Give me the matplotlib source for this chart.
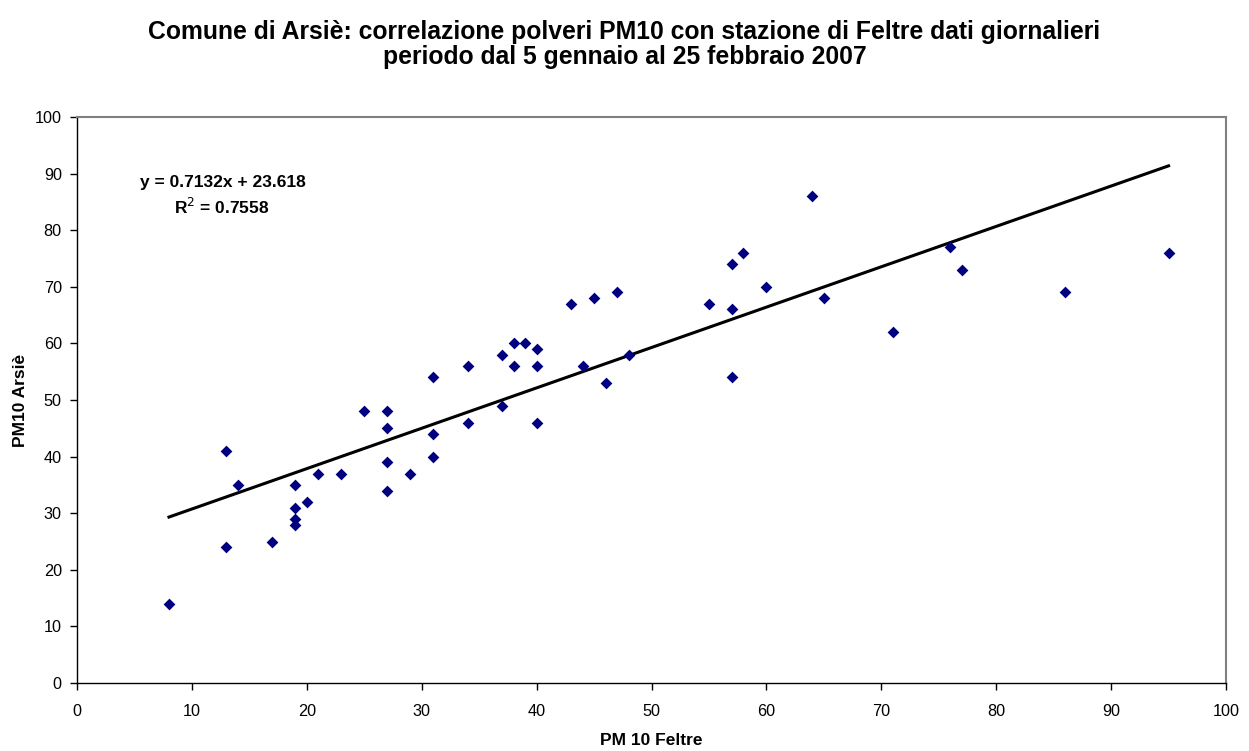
import matplotlib
matplotlib.use("Agg")
import matplotlib.pyplot as plt
import numpy as np

plt.rcParams['font.family'] = ['Liberation Sans', 'DejaVu Sans']

pm10_feltre = [8, 13, 13, 14, 17, 19, 19, 19, 19, 20, 21, 23, 25, 27, 27, 27, 27, 29,
               31, 31, 31, 34, 34, 37, 37, 38, 38, 39, 40, 40, 40, 43, 44, 45, 46, 47,
               48, 55, 57, 57, 57, 58, 60, 64, 65, 71, 76, 77, 86, 95]
pm10_arsie = [14, 41, 24, 35, 25, 35, 31, 29, 28, 32, 37, 37, 48, 48, 45, 39, 34, 37,
              54, 44, 40, 56, 46, 58, 49, 60, 56, 60, 59, 56, 46, 67, 56, 68, 53, 69,
              58, 67, 74, 66, 54, 76, 70, 86, 68, 62, 77, 73, 69, 76]
slope = 0.7132
intercept = 23.618
eq_text = "y = 0.7132x + 23.618"
r2_text = "R$^2$ = 0.7558"
title = ("Comune di Arsiè: correlazione polveri PM10 con stazione di Feltre dati giornalieri\n"
         "periodo dal 5 gennaio al 25 febbraio 2007")
xlabel = "PM 10 Feltre"
ylabel = "PM10 Arsiè"
xticks = list(range(0, 101, 10))
yticks = list(range(0, 101, 10))

fig = plt.figure(figsize=(12.49, 7.51), dpi=100)
ax = fig.add_axes([0.0617, 0.0905, 0.9199, 0.7537])

ax.scatter(pm10_feltre, pm10_arsie, marker='D', s=36, color='#000080', zorder=3, linewidths=0)
xs = np.array([min(pm10_feltre), max(pm10_feltre)])
ax.plot(xs, slope * xs + intercept, color='black', lw=2.2, zorder=2)

ax.set_xlim(0, 100)
ax.set_ylim(0, 100)
ax.set_xticks(xticks)
ax.set_yticks(yticks)
ax.tick_params(direction='out', length=5, width=1, labelsize=11.7, colors='black')
ax.tick_params(axis='x', pad=10)
ax.tick_params(axis='y', pad=6)
for s in ['top', 'right']:
    ax.spines[s].set_color('#808080')
    ax.spines[s].set_linewidth(1.5)
for s in ['left', 'bottom']:
    ax.spines[s].set_color('black')
    ax.spines[s].set_linewidth(1)

ax.set_xlabel(xlabel, fontsize=12.5, fontweight='bold', labelpad=10)
ax.set_ylabel(ylabel, fontsize=12.5, fontweight='bold', labelpad=5)

fig.text(0.5, 1 - 44.5 / 751, title, ha='center', va='center', fontsize=17.8,
         fontweight='bold', linespacing=1.05)

ax.text(12.66, 88.5, eq_text, ha='center', va='center', fontsize=12.5, fontweight='bold')
ax.text(12.6, 84.1, r2_text, ha='center', va='center', fontsize=12.5, fontweight='bold')

fig.savefig('out.png', dpi=100)
